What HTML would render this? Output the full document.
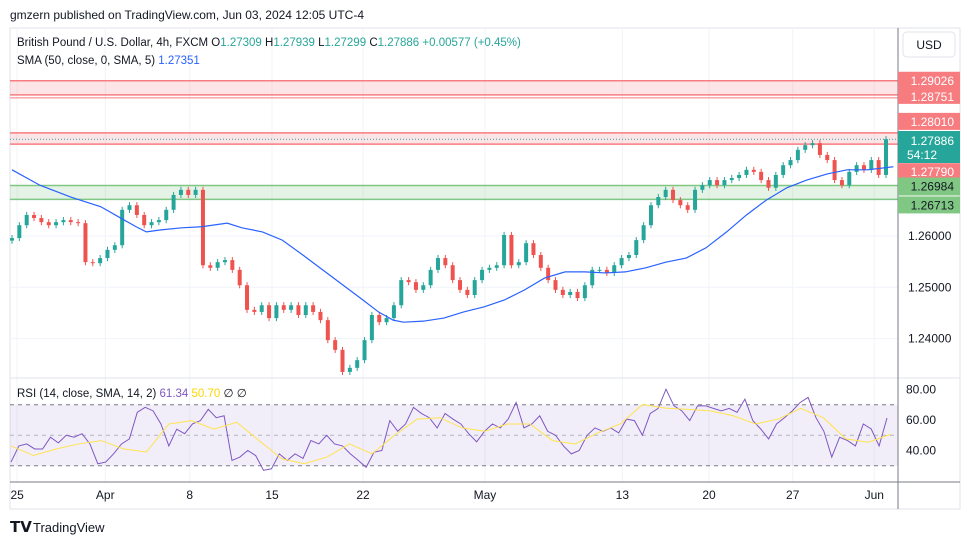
<!DOCTYPE html>
<html><head><meta charset="utf-8"><style>
body{margin:0;width:970px;height:545px;background:#fff;overflow:hidden;font-family:"Liberation Sans",sans-serif;}
svg text{font-family:"Liberation Sans",sans-serif;}
</style></head><body>
<svg id="c" width="970" height="545" viewBox="0 0 970 545" xmlns="http://www.w3.org/2000/svg">
<text x="10" y="19" font-size="12" fill="#131722">gmzern published on TradingView.com, Jun 03, 2024 12:05 UTC-4</text>
<rect x="10" y="28" width="950" height="481" fill="none" stroke="#e0e3eb"/>
<g id="grid"></g>
<g id="zones"></g>
<g id="candles"></g>
<g id="sma"></g>
<g id="rsi"></g>
<g id="axes"></g>
<text x="17" y="46" font-size="11.5" fill="#131722">British Pound / U.S. Dollar, 4h, FXCM  <tspan fill="#131722">O</tspan><tspan fill="#26a69a">1.27309</tspan>  <tspan fill="#131722">H</tspan><tspan fill="#26a69a">1.27939</tspan>  <tspan fill="#131722">L</tspan><tspan fill="#26a69a">1.27299</tspan>  <tspan fill="#131722">C</tspan><tspan fill="#26a69a">1.27886  +0.00577 (+0.45%)</tspan></text>
<text x="17" y="64" font-size="11.5" fill="#131722">SMA (50, close, 0, SMA, 5) <tspan fill="#2962ff">1.27351</tspan></text>
<text x="17" y="397" font-size="11.5" fill="#131722">RSI (14, close, SMA, 14, 2) <tspan fill="#7e57c2">61.34</tspan> <tspan fill="#ffd600">50.70</tspan> ∅ ∅</text>
<g><rect x="903" y="32" width="52" height="25" rx="4" fill="#fff" stroke="#e0e3eb"/><text x="929" y="49" font-size="12" text-anchor="middle" fill="#131722">USD</text></g>
<g><text x="10" y="532" font-size="15" font-weight="bold" fill="#131722">𝗧𝗩</text><text x="33" y="532" font-size="13" fill="#131722">TradingView</text></g>
</svg>
<script>
const closes=[1.2596,1.2621,1.2641,1.2635,1.2627,1.2621,1.2627,1.2631,1.2627,1.2625,1.2549,1.2547,1.2557,1.2573,1.2582,1.2651,1.2660,1.2641,1.2621,1.2627,1.2631,1.2651,1.2680,1.2690,1.2680,1.2690,1.2543,1.2538,1.2549,1.2553,1.2534,1.2504,1.2456,1.2452,1.2465,1.2440,1.2465,1.2456,1.2465,1.2446,1.2465,1.2452,1.2436,1.2397,1.2378,1.2335,1.2343,1.2358,1.2397,1.2446,1.2432,1.2440,1.2465,1.2514,1.2510,1.2495,1.2504,1.2534,1.2557,1.2543,1.2514,1.2495,1.2485,1.2514,1.2534,1.2538,1.2543,1.2602,1.2543,1.2549,1.2586,1.2563,1.2538,1.2514,1.2495,1.2485,1.2491,1.2479,1.2504,1.2534,1.2534,1.2528,1.2543,1.2557,1.2563,1.2592,1.2621,1.2660,1.2676,1.2690,1.2670,1.2660,1.2651,1.2690,1.2699,1.2709,1.2699,1.2709,1.2713,1.2719,1.2729,1.2725,1.2709,1.2694,1.2719,1.2738,1.2748,1.2768,1.2777,1.2781,1.2758,1.2748,1.2709,1.2699,1.2725,1.2738,1.2729,1.2748,1.2719,1.27886];
const smaIdx=[0,3.8,8.0,12.1,14.8,16.9,18.3,20.3,23.1,25.8,29.3,31.3,34.1,36.8,39.6,42.3,45.1,47.8,49.9,51.9,53.3,56,58.8,61.5,64.3,67,69.8,72.5,75.3,78,80.8,83.5,86.3,89,91.8,94.5,97.3,100,102.7,105.5,108.2,111,113.7,116.5,120];
const smaVals=[1.2729,1.2699,1.2676,1.2657,1.2635,1.2618,1.2608,1.2612,1.2616,1.2618,1.2625,1.2616,1.2608,1.2592,1.2563,1.2534,1.2504,1.2475,1.2452,1.2436,1.2432,1.2434,1.2440,1.2452,1.2462,1.2475,1.2495,1.2518,1.2530,1.2530,1.2528,1.2530,1.2538,1.2549,1.2557,1.2577,1.2608,1.2641,1.2670,1.2694,1.2709,1.2721,1.2729,1.2729,1.2735];
const rsiVals=[32.4,43,44.3,41,41,48.7,45,50,48.7,51,44.3,31.3,32.4,37.8,44.3,47.6,65,68.3,66,57.4,43,54,51,57.4,59.6,67,61.5,62.8,33.5,35.7,40,36.7,27,28,37.8,33.5,37.8,34.8,46.5,44.3,50,44.3,43,37.8,33.5,29,38.9,40,59.6,52.6,57.4,68.3,64.3,61.5,54.8,64.3,60.6,57.4,51,45.7,52.6,57.4,54.8,60.6,71.5,54.8,57.4,62.8,52.6,50,43,37.8,40,50,54.8,52.6,54.8,51.5,60.6,59.6,50,64.3,67.6,80.2,69.3,66,59.6,69.3,69.3,67.6,66,67.6,65,73.7,59.6,54.1,47.6,57.4,61.5,66,71.5,74.8,61.5,52.6,35.7,48.7,46.5,43,57.4,54.1,43,61.3];
const rsiMa=[43,36.7,41,44.3,46.5,41,39,57.4,59.6,54,58.5,46.5,34.6,31.3,35.7,44.3,37.8,50,60.6,61.5,54.8,52.6,57.4,57.4,46.5,44.3,51.5,57.4,70.2,67.8,67,66,62.8,57.4,60.6,67.6,61.5,47.6,45.4,50.7];
const priceTicks=[1.26,1.25,1.24];
const rsiTicks=[80,60,40];
const dateLabels=["25","Apr","8","15","22","May","13","20","27","Jun"];
const dateIdx=[0.7,12.7,24.2,35.4,47.8,64.4,83.1,94.9,106.3,117.4];
const zones=[[1.29026,1.28751,"red"],[1.28010,1.27790,"red"],[1.26984,1.26713,"green"]];

const NS="http://www.w3.org/2000/svg";
const X0=12,X1=886,N=closes.length;
const xs=i=>X0+i*(X1-X0)/(N-1);
const py=p=>236-(p-1.26)*5130;
const ry=v=>420-(v-60)*1.525;
function mk(tag,attrs,parent){const e=document.createElementNS(NS,tag);for(const k in attrs)e.setAttribute(k,attrs[k]);document.getElementById(parent).appendChild(e);return e;}

dateIdx.forEach(d=>{const l=mk('line',{x1:xs(d),x2:xs(d),y1:28,y2:482,stroke:'#f0f3fa'},'grid');

});
priceTicks.forEach(p=>{const l=mk('line',{x1:10,x2:898,y1:py(p),y2:py(p),stroke:'#f0f3fa'},'grid');

});
zones.forEach(z=>{const c=z[2]=='red'?'#f77c80':'#81c784',f=z[2]=='red'?'rgba(242,54,69,0.13)':'rgba(76,175,80,0.15)';
const r=mk('rect',{x:10,y:py(z[0]),width:888,height:py(z[1])-py(z[0]),fill:f},'zones');


[z[0],z[1]].forEach(p=>{mk('line',{x1:10,x2:898,y1:py(p),y2:py(p),stroke:c,'stroke-width':1.5},'zones');});
if(z[2]=='red'&&z[0]>1.29)mk('line',{x1:10,x2:898,y1:py(z[1])+3,y2:py(z[1])+3,stroke:c},'zones');});
const dl=mk('line',{x1:10,x2:898,y1:py(closes[N-1]),y2:py(closes[N-1]),stroke:'#26a69a','stroke-dasharray':'1 2'},'zones');


for(let i=0;i<N;i++){const o=i?closes[i-1]:closes[0]-0.0005,c=closes[i];const up=c>=o,col=up?'#26a69a':'#ef5350';
const hi=Math.max(o,c)+0.0006,lo=Math.min(o,c)-0.0006,x=xs(i);
const w=mk('line',{x1:x,x2:x,y1:py(hi),y2:py(lo),stroke:col},'candles');


const b=mk('rect',{x:x-2,y:py(Math.max(o,c)),width:4,height:Math.max(1,Math.abs(py(o)-py(c))),fill:col},'candles');

}
const sp=mk('polyline',{points:smaIdx.map((d,i)=>xs(d)+','+py(smaVals[i])).join(' '),fill:'none',stroke:'#2962ff','stroke-width':1.2},'sma');


mk('line',{x1:10,x2:960,y1:378,y2:378,stroke:'#e0e3eb'},'rsi');
mk('rect',{x:10,y:ry(70),width:888,height:ry(30)-ry(70),fill:'rgba(126,87,194,0.1)'},'rsi');
[70,50,30].forEach(v=>mk('line',{x1:10,x2:898,y1:ry(v),y2:ry(v),stroke:v==50?'#b2b5be':'#787b86','stroke-dasharray':'4 4'},'rsi'));
const rp=mk('polyline',{points:rsiVals.map((v,i)=>(11+i*(887-11)/(rsiVals.length-1))+','+ry(v)).join(' '),fill:'none',stroke:'#7e57c2','stroke-width':1},'rsi');


const mp=mk('polyline',{points:rsiMa.map((v,i)=>(11+i*(891-11)/(rsiMa.length-1))+','+ry(v)).join(' '),fill:'none',stroke:'#ffe34d','stroke-width':1},'rsi');


mk('line',{x1:898,x2:898,y1:28,y2:509,stroke:'#787b86'},'axes');
mk('line',{x1:10,x2:960,y1:482,y2:482,stroke:'#787b86'},'axes');
priceTicks.forEach(p=>{const t=mk('text',{x:908,y:py(p)+4,'font-size':12,fill:'#131722'},'axes');t.textContent=p.toFixed(5);

});
rsiTicks.forEach(v=>{const t=mk('text',{x:906,y:ry(v)+4,'font-size':12,fill:'#131722'},'axes');t.textContent=v.toFixed(2);

});
dateLabels.forEach((s,i)=>{const t=mk('text',{x:xs(dateIdx[i]),y:499,'font-size':12,fill:'#131722','text-anchor':'middle'},'axes');t.textContent=s;

});
const labels=[[1.29026,'#f77c80',-9,17],[1.28751,'#f77c80',-7,16],[1.28010,'#f77c80',-20,17],[1.27790,'#f77c80',19,17],[1.26984,'#81c784',-8,18],[1.26713,'#81c784',-3,17]];
labels.forEach(l=>{const y=py(l[0])+l[2];mk('rect',{x:898,y:y,width:62,height:l[3],fill:l[1]},'axes');
const t=mk('text',{x:954,y:y+13,'font-size':12,fill:l[1]=='#81c784'?'#131722':'#fff','text-anchor':'end'},'axes');t.textContent=l[0].toFixed(5);

});
const ly=131;
mk('rect',{x:898,y:ly,width:62,height:32,fill:'#26a69a'},'axes');
const t1=mk('text',{x:954,y:ly+14,'font-size':12,fill:'#fff','text-anchor':'end'},'axes');t1.textContent=closes[N-1].toFixed(5);


const t2=mk('text',{x:907,y:ly+28,'font-size':12,fill:'#fff'},'axes');t2.textContent='54:12';


</script>
</body></html>
